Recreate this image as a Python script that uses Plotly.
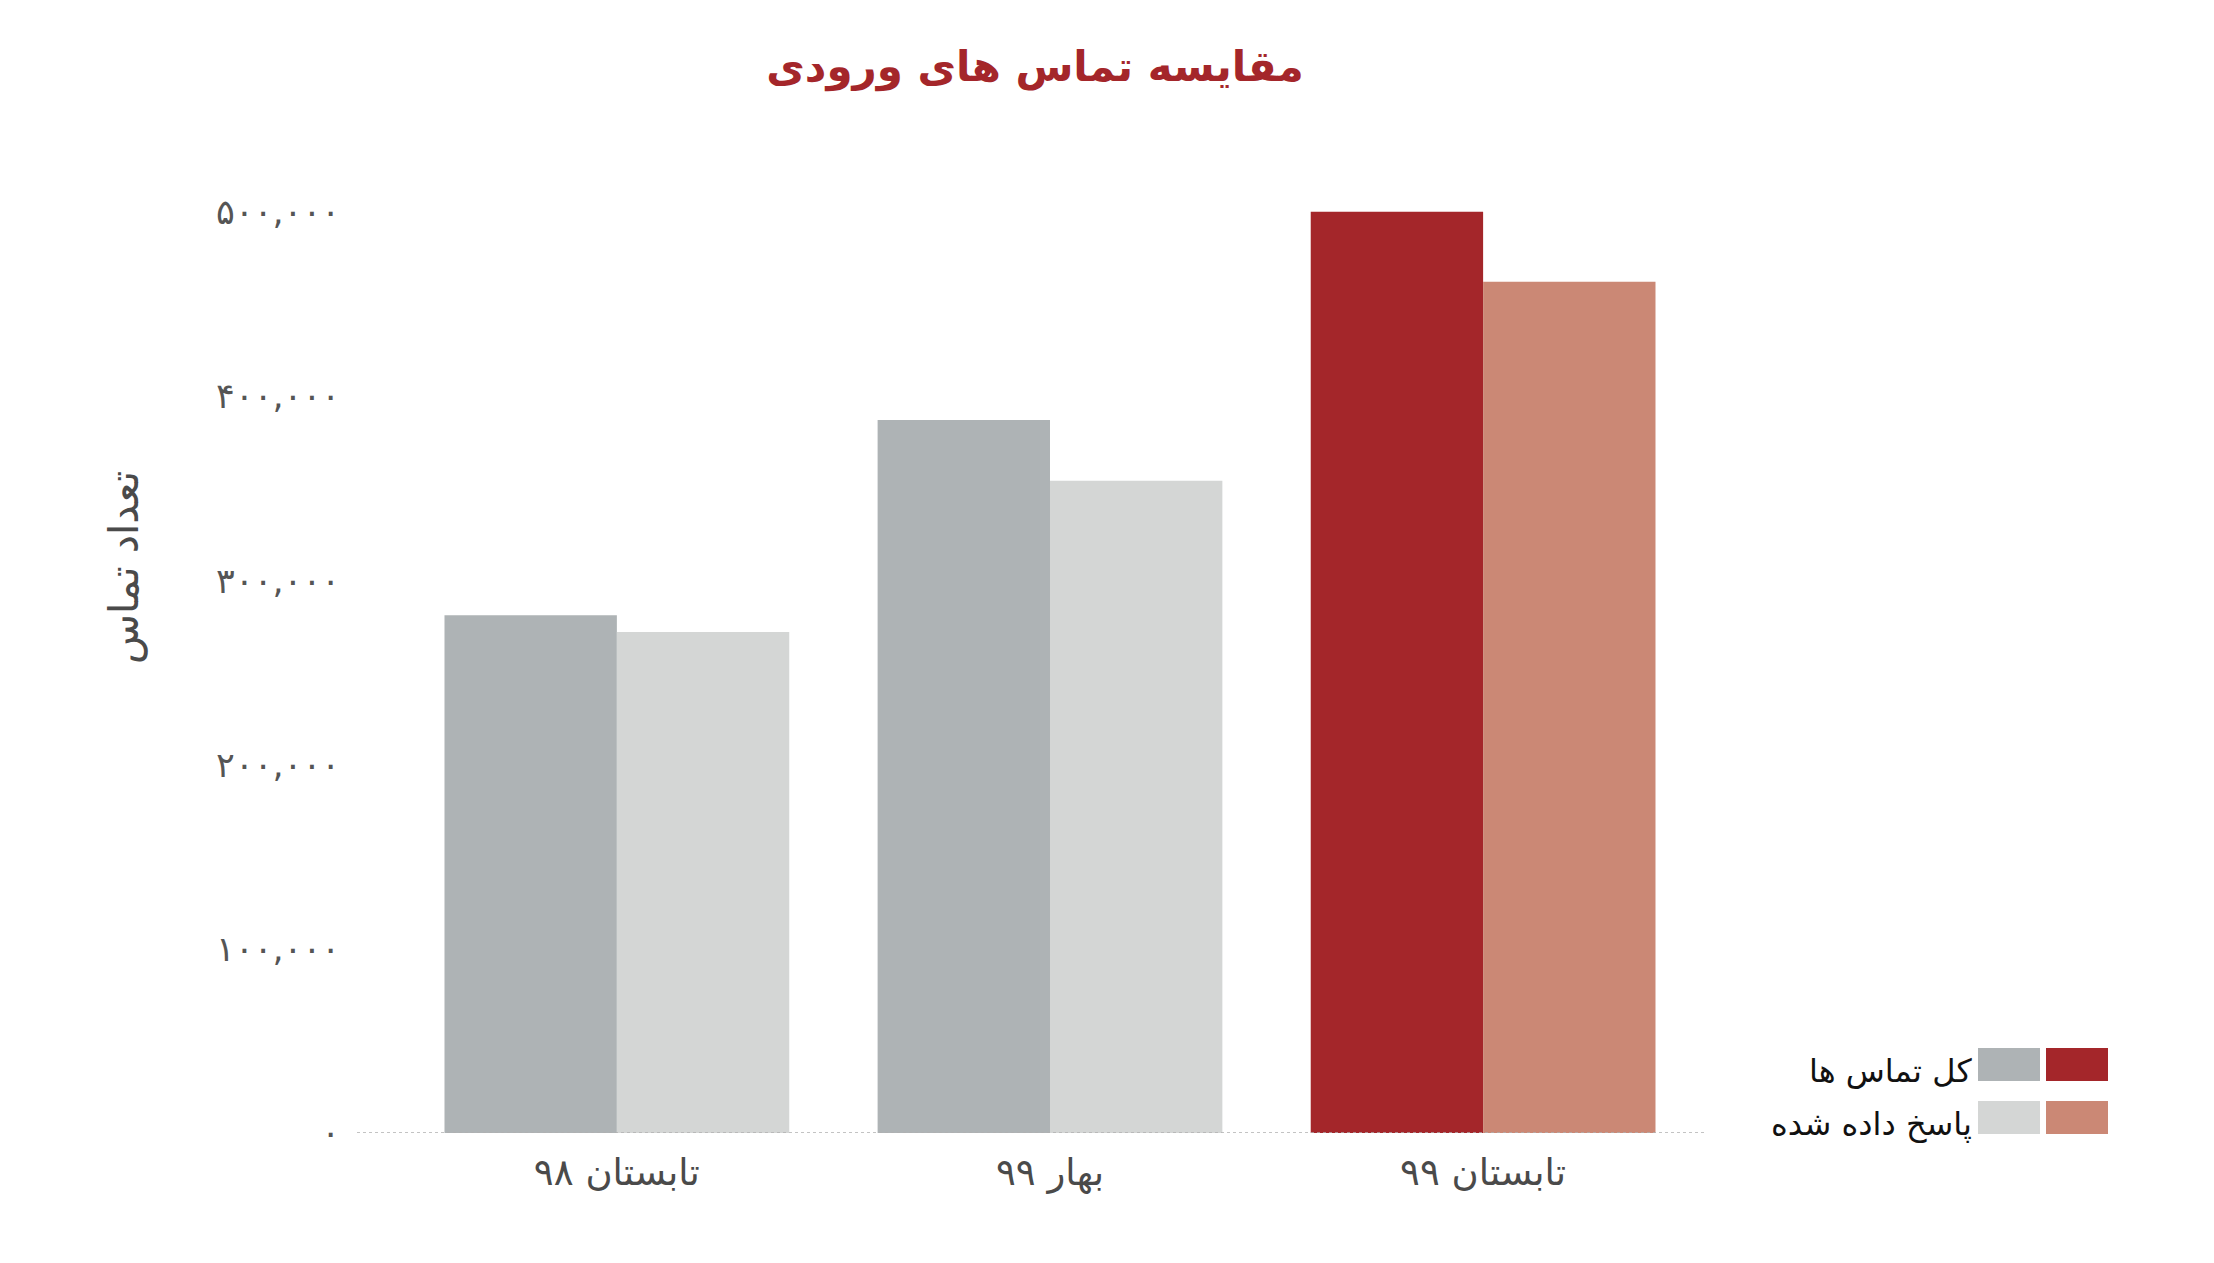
import plotly.graph_objects as go

categories = ["تابستان ۹۸", "بهار ۹۹", "تابستان ۹۹"]
total_calls = [281000, 387000, 500000]
answered_calls = [272000, 354000, 462000]
series_names = ["کل تماس ها", "پاسخ داده شده"]
total_colors = ["#aeb3b5", "#aeb3b5", "#a4262a"]
answered_colors = ["#d4d6d5", "#d4d6d5", "#cb8875"]
tick_vals = [0, 100000, 200000, 300000, 400000, 500000]
tick_text = ["۰", "۱۰۰,۰۰۰", "۲۰۰,۰۰۰", "۳۰۰,۰۰۰", "۴۰۰,۰۰۰", "۵۰۰,۰۰۰"]
title_text = "مقایسه تماس های ورودی"
y_title = "تعداد تماس"

OFF = 8  # default body margin of the page
W, H = 2214 - 2 * OFF, 1263 - 2 * OFF
ML, MR, MT, MB = 357 - OFF, 510 - OFF, 175 - OFF, 130 - OFF
PW = W - ML - MR
PH = H - MT - MB

FONT = "DejaVu Sans, Noto Sans, sans-serif"

fig = go.Figure()
fig.add_trace(go.Bar(x=[0, 1, 2], y=total_calls, name=series_names[0],
                     marker=dict(color=total_colors, line=dict(width=0))))
fig.add_trace(go.Bar(x=[0, 1, 2], y=answered_calls, name=series_names[1],
                     marker=dict(color=answered_colors, line=dict(width=0))))

fig.update_layout(
    width=W, height=H,
    margin=dict(l=ML, r=MR, t=MT, b=MB, autoexpand=False),
    paper_bgcolor="white", plot_bgcolor="white",
    barmode="group", bargap=0.204, bargroupgap=0,
    showlegend=False,
    font=dict(family=FONT, color="#555555"),
    title=dict(text="<b>" + title_text + "</b>", x=(1035 - OFF) / W, xanchor="center",
               y=1 - (66 - OFF) / H, yanchor="middle",
               font=dict(size=42, color="#a4262a", family=FONT)),
)
fig.update_xaxes(
    range=[-0.6, 2.51], tickvals=[0, 1, 2], ticktext=categories,
    showgrid=False, zeroline=False, showline=False,
    ticks="outside", ticklen=7, tickcolor="rgba(0,0,0,0)",
    tickfont=dict(size=37, color="#4a4a4a", family=FONT),
)
fig.update_yaxes(
    range=[0, 520000], tickvals=tick_vals, ticktext=tick_text,
    showgrid=False, zeroline=False, showline=False,
    ticks="outside", ticklen=9, tickcolor="rgba(0,0,0,0)",
    tickfont=dict(size=35, color="#555555", family=FONT),
)
# dotted baseline
fig.add_shape(type="line", xref="paper", yref="y", x0=0, x1=1, y0=0, y1=0,
              line=dict(color="#b0b0b0", width=1.5, dash="dot"), layer="above")


def px_x(px):
    return (px - OFF - ML) / PW


def px_y(py):
    return (H - MB - (py - OFF)) / PH


# y-axis title
fig.add_annotation(text=y_title, xref="paper", yref="paper",
                   x=px_x(124), y=px_y(568),
                   xanchor="center", yanchor="middle", textangle=-90,
                   showarrow=False, font=dict(size=41, color="#4a4a4a", family=FONT))

# custom legend
rows = [(1048, 1081, series_names[0], total_colors[0], total_colors[2]),
        (1101, 1134, series_names[1], answered_colors[0], answered_colors[2])]
for y0, y1, name, c1, c2 in rows:
    fig.add_shape(type="rect", xref="paper", yref="paper",
                  x0=px_x(1978), x1=px_x(2040), y0=px_y(y1), y1=px_y(y0),
                  fillcolor=c1, line=dict(width=0))
    fig.add_shape(type="rect", xref="paper", yref="paper",
                  x0=px_x(2046), x1=px_x(2108), y0=px_y(y1), y1=px_y(y0),
                  fillcolor=c2, line=dict(width=0))
    fig.add_annotation(text=name, xref="paper", yref="paper",
                       x=px_x(1974), y=px_y((y0 + y1) / 2 + 6),
                       xanchor="right", yanchor="middle", showarrow=False,
                       font=dict(size=32, color="#111111", family=FONT))

fig.write_html("out.html")
